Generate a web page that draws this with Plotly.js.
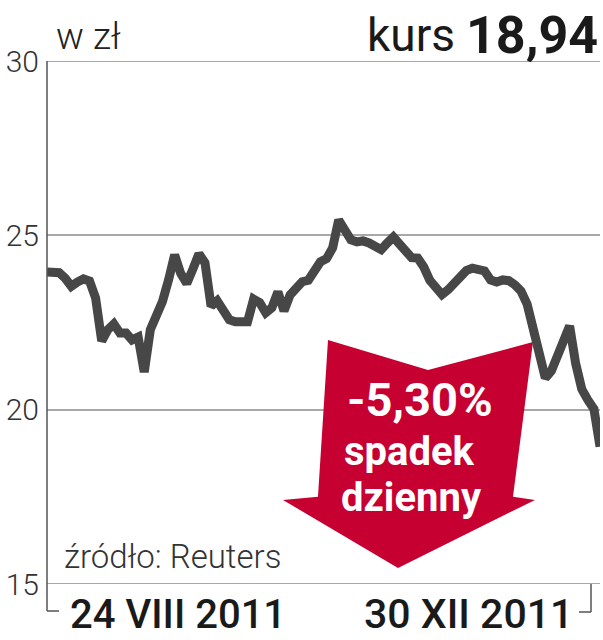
<!DOCTYPE html>
<html>
<head>
<meta charset="utf-8">
<script src="https://cdn.plot.ly/plotly-3.0.1.min.js"></script>
<style>html,body{margin:0;padding:0;background:#fff;}#chart{width:603px;height:640px;}</style>
</head>
<body>
<div id="chart"></div>
<script>
// Daily closing price (zł), 24 VIII 2011 – 30 XII 2011
const prices = [
  23.95, 23.97, 23.93, 23.77, 23.54, 23.66, 23.75, 23.69, 23.20, 21.97,
  22.29, 22.46, 22.20, 22.20, 22.00, 22.08, 21.08, 22.29, 22.73, 23.10,
  23.72, 24.44, 23.91, 23.62, 24.03, 24.47, 24.21, 22.97, 23.12, 22.80,
  22.58, 22.52, 22.52, 22.52, 23.17, 23.07, 22.78, 22.92, 23.38, 22.83,
  23.29, 23.52, 23.67, 23.71, 23.95, 24.24, 24.33, 24.64, 25.44, 25.19,
  24.87, 24.81, 24.84, 24.78, 24.69, 24.59, 24.78, 24.95, 24.75, 24.52,
  24.36, 24.35, 24.09, 23.71, 23.52, 23.30, 23.44, 23.63, 23.83, 23.99,
  24.06, 24.02, 23.98, 23.72, 23.66, 23.72, 23.70, 23.58, 23.40, 23.03,
  22.26, 21.63, 20.91, 21.11, 21.57, 22.11, 22.40, 21.32, 20.59, 20.28,
  20.02, 18.94
];
const sessions = prices.map((_, i) => i);
const yTicks = [15, 20, 25, 30];
const yTickLabels = ['15', '20', '25', '30'];
const dateLabels = ['24 VIII 2011', '30 XII 2011'];
const unitLabel = 'w zł';
const priceLabel = 'kurs';
const lastPrice = '18,94';
const changeLabel = '-5,30%';
const changeText = ['spadek', 'dzienny'];
const sourceLabel = 'źródło: Reuters';

// pixel -> paper helpers (plot area 47..600 x 61..584)
const L = 47, T = 61, W = 553, H = 523;
const px = v => (v - L) / W;
const py = v => (T + H - v) / H;

const FONT = 'Roboto, "Open Sans", sans-serif';

const trace = {
  x: sessions, y: prices, type: 'scatter', mode: 'lines',
  line: {color: '#474747', width: 9, shape: 'linear'},
  hoverinfo: 'skip'
};

function ann(text, x, y, size, weight, color, xanchor) {
  return {text: text, x: px(x), y: py(y), xref: 'paper', yref: 'paper',
    xanchor: xanchor || 'center', yanchor: 'middle', showarrow: false,
    font: {family: FONT, size: size, color: color || '#222', weight: weight || 400}};
}

const grey = '#a8a8a8';
const layout = {
  width: 603, height: 640,
  margin: {l: L, r: 603 - L - W, t: T, b: 640 - T - H, pad: 0},
  paper_bgcolor: '#fff', plot_bgcolor: '#fff',
  showlegend: false,
  xaxis: {range: [0, sessions.length - 1], showgrid: false, zeroline: false,
    showticklabels: false, ticks: '', showline: false, fixedrange: true},
  yaxis: {range: [15, 30], tickvals: yTicks, ticktext: yTickLabels,
    showgrid: true, gridcolor: grey, gridwidth: 2, zeroline: false,
    showline: false, ticks: '', ticklabelstandoff: 7,
    tickfont: {family: FONT, size: 30, color: '#333', weight: 300}, fixedrange: true},
  shapes: [
    // top and bottom horizontal rules (30 and 15)
    {type: 'line', xref: 'paper', yref: 'y', x0: 0, x1: 1, y0: 30, y1: 30,
     layer: 'below', line: {color: grey, width: 2}},
    {type: 'line', xref: 'paper', yref: 'y', x0: 0, x1: 1, y0: 15, y1: 15,
     layer: 'below', line: {color: grey, width: 2}},
    // red arrow
    {type: 'path', xref: 'x', yref: 'y', layer: 'between',
     path: 'M46.24,22.00 L62.70,21.14 L79.97,21.94 L76.68,17.50 L80.30,17.41 L57.76,15.46 L38.83,17.41 L44.59,17.50 Z',
     fillcolor: '#c70032', line: {width: 0}},
    // left axis line + bracket
    {type: 'line', xref: 'paper', yref: 'paper', x0: 0, x1: 0, y0: py(611), y1: 1,
     line: {color: '#555', width: 1.5}},
    {type: 'line', xref: 'paper', yref: 'paper', x0: 0, x1: px(59), y0: py(611), y1: py(611),
     line: {color: '#555', width: 1.5}},
    // right bracket
    {type: 'line', xref: 'paper', yref: 'paper', x0: px(591), x1: px(591), y0: py(584), y1: py(612),
     line: {color: '#555', width: 1.5}},
    {type: 'line', xref: 'paper', yref: 'paper', x0: px(579), x1: px(591), y0: py(612), y1: py(612),
     line: {color: '#555', width: 1.5}}
  ],
  annotations: [
    ann(unitLabel, 54, 37, 37, 300, '#222', 'left'),
    ann(priceLabel, 457, 35, 46, 400, '#1a1a1a', 'right'),
    ann(lastPrice, 600, 35, 52, 700, '#1a1a1a', 'right'),
    ann(changeLabel, 420, 399, 47, 700, '#fff'),
    ann(changeText[0], 409, 451, 40, 700, '#fff'),
    ann(changeText[1], 411, 497, 40, 700, '#fff'),
    ann(sourceLabel, 62, 556, 33, 300, '#333', 'left'),
    ann(dateLabels[0], 178, 614, 40, 500, '#1a1a1a'),
    ann(dateLabels[1], 468, 614, 41, 500, '#1a1a1a')
  ]
};

Plotly.newPlot('chart', [trace], layout, {displayModeBar: false, staticPlot: true});
</script>
</body>
</html>
